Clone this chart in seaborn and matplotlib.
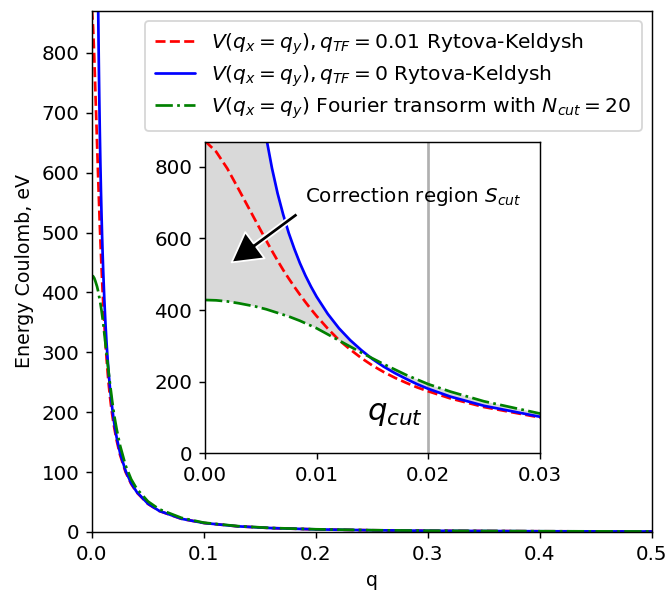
import matplotlib
matplotlib.use('Agg')
import matplotlib.pyplot as plt
import seaborn as sns

# values
q = [0, 0.001, 0.002, 0.003, 0.004, 0.0045, 0.005, 0.0055, 0.006, 0.0065,
     0.007, 0.0075, 0.008, 0.0085, 0.009, 0.0095, 0.010, 0.011, 0.012, 0.013,
     0.014, 0.015, 0.016, 0.017, 0.018, 0.019, 0.020, 0.022, 0.025, 0.030,
     0.035, 0.040, 0.050, 0.060, 0.080, 0.100, 0.130, 0.160, 0.200, 0.250,
     0.300, 0.400, 0.500]

# Rytova-Keldysh, q_TF = 0.01
v_rk_tf = [872, 842, 795, 738, 680, 651, 622, 593, 565, 538,
           512, 488, 465, 443, 422, 402, 383, 348, 316, 290,
           266, 245, 227, 211, 197, 184, 173, 153, 129, 100,
           80.2, 65.9, 46.9, 35.1, 21.9, 15.0, 9.46, 6.51, 4.34, 2.86,
           2.03, 1.18, 0.77]

# Rytova-Keldysh, q_TF = 0 (diverges at q=0, first value is off-scale)
v_rk = [10000, 5404, 2633, 1711, 1252, 1100, 978, 879, 796, 726,
        667, 615, 571, 531, 496, 465, 437, 389, 349, 316,
        288, 263, 242, 224, 208, 193, 180, 158, 132.5, 102,
        81.5, 66.7, 47.2, 35.3, 22.0, 15.0, 9.47, 6.52, 4.34, 2.86,
        2.03, 1.18, 0.77]

# Fourier transform, N_cut = 20
v_ft = [428, 427, 424, 419, 413, 410, 406, 402, 397, 392,
        387, 382, 376, 370, 363, 356, 349, 332, 315, 298,
        281, 265, 249, 234, 219, 206, 193, 172, 145, 111,
        88, 72, 51, 38, 23.5, 15.5, 9.8, 6.7, 4.5, 3.0,
        2.1, 1.25, 0.8]

labels = [r'$V(q_x=q_y), q_{TF}=0.01$ Rytova-Keldysh',
          r'$V(q_x=q_y), q_{TF}=0$ Rytova-Keldysh',
          r'$V(q_x=q_y)$ Fourier transorm with $N_{cut}=20$']

q_cut = 0.02
y_top = 870

sns.set_style('ticks', {'axes.edgecolor': 'black', 'text.color': 'black',
                        'xtick.color': 'black', 'ytick.color': 'black',
                        'axes.labelcolor': 'black'})
plt.rcParams['xtick.labelsize'] = 11
plt.rcParams['ytick.labelsize'] = 11

fig = plt.figure(figsize=(669 / 130, 593 / 130), dpi=130)
ax = fig.add_axes([0.1375, 0.1029, 0.837, 0.8786])

sns.lineplot(x=q, y=v_rk_tf, ax=ax, color='r', linestyle='--', label=labels[0])
sns.lineplot(x=q, y=v_rk, ax=ax, color='b', linestyle='-', label=labels[1])
sns.lineplot(x=q, y=v_ft, ax=ax, color='g', linestyle='-.', label=labels[2])
ax.set_xlim(0, 0.5)
ax.set_ylim(0, y_top)
ax.set_xlabel('q', fontsize=10.5)
ax.set_ylabel('Energy Coulomb, eV', fontsize=10.5)
ax.legend(loc='upper right', fontsize=11.2, labelspacing=0.32, borderpad=0.5)

# inset zoom on small q
ax_in = fig.add_axes([0.3064, 0.2356, 0.5007, 0.5255])
ax_in.fill_between(q, v_ft, v_rk, color='#d9d9d9', lw=0)
ax_in.axvline(q_cut, color='#b0b0b0', lw=1.5)
sns.lineplot(x=q, y=v_rk_tf, ax=ax_in, color='r', linestyle='--', legend=False)
sns.lineplot(x=q, y=v_rk, ax=ax_in, color='b', linestyle='-', legend=False)
sns.lineplot(x=q, y=v_ft, ax=ax_in, color='g', linestyle='-.', legend=False)
ax_in.set_xlim(0, 0.03)
ax_in.set_ylim(0, y_top)
ax_in.set_xticks([0, 0.01, 0.02, 0.03])
ax_in.set_yticks([0, 200, 400, 600, 800])

ax_in.text(0.0090, 701, r'Correction region $S_{cut}$', fontsize=11,
           ha='left', va='baseline')
ax_in.annotate('', xy=(0.00239, 533), xytext=(0.00826, 668),
               arrowprops=dict(facecolor='black', width=2.5, headwidth=18,
                               headlength=16, shrink=0))
ax_in.text(0.0145, 93, r'$q_{cut}$', fontsize=17, ha='left', va='baseline')

fig.savefig('out.png', dpi=130)
